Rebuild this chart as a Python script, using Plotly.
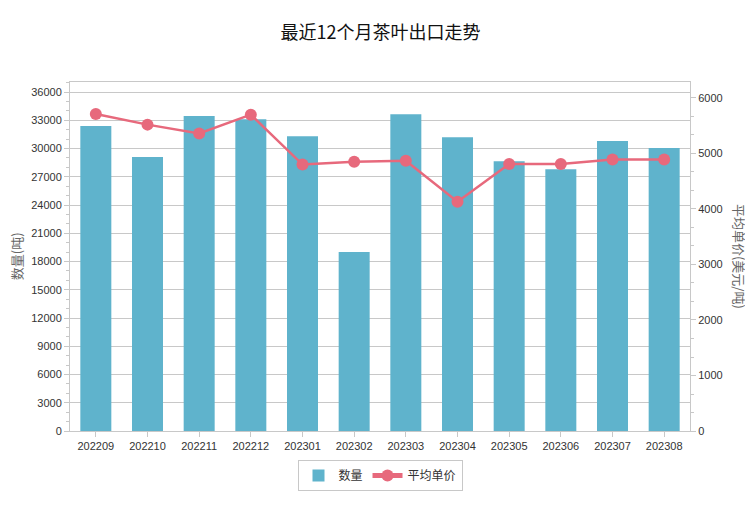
import plotly.graph_objects as go

months = ["202209", "202210", "202211", "202212", "202301", "202302",
          "202303", "202304", "202305", "202306", "202307", "202308"]
quantity = [32400, 29100, 33450, 33100, 31300, 19000,
            33650, 31200, 28650, 27800, 30800, 30050]
avg_price = [5710, 5520, 5360, 5700, 4800, 4850,
             4870, 4130, 4810, 4810, 4890, 4890]

left_ticks = list(range(0, 36001, 3000))
right_ticks = list(range(0, 6001, 1000))

bar_color = "#5fb3cc"
line_color = "#e7697c"
grid = "#c8c8c8"
tick_font = dict(family="Liberation Sans, Arial, sans-serif", size=11, color="#333333")
cjk = "Noto Sans CJK SC, sans-serif"

fig = go.Figure()
fig.add_trace(go.Bar(
    x=months, y=quantity, name="数量",
    marker=dict(color=bar_color, line=dict(width=0)),
    yaxis="y",
))
fig.add_trace(go.Scatter(
    x=months, y=avg_price, name="平均单价", mode="lines+markers",
    line=dict(color=line_color, width=2.5),
    marker=dict(color=line_color, size=12),
    yaxis="y2",
))

W, H = 745, 499
fig.update_layout(
    width=W, height=H,
    margin=dict(l=62, r=63, t=74, b=76),
    paper_bgcolor="white", plot_bgcolor="white",
    title=dict(text="最近12个月茶叶出口走势", x=0.5, xanchor="center",
               y=1 - 18 / H, yanchor="top",
               font=dict(family=cjk, size=18, color="#111111")),
    bargap=0.4,
    showlegend=True,
    legend=dict(orientation="h", x=0.5, xanchor="center", y=-0.083, yanchor="top",
                bordercolor="#c8c8c8", borderwidth=1,
                font=dict(family=cjk, size=12, color="#333333"),
                itemsizing="constant", itemwidth=30),
    xaxis=dict(type="category", range=[-0.5, len(months) - 0.5],
               showgrid=False, showline=True, linecolor=grid,
               mirror=True, ticks="outside", ticklen=5, tickcolor=grid,
               tickfont=tick_font, automargin=False),
    yaxis=dict(range=[0, 37062], tickvals=left_ticks,
               ticktext=[str(v) for v in left_ticks], showgrid=True,
               gridcolor=grid, gridwidth=1, showline=True, linecolor=grid,
               ticks="outside", ticklen=5, tickcolor=grid, tickfont=tick_font,
               zeroline=False, automargin=False,
               minor=dict(dtick=1000, ticks="outside", ticklen=3, tickcolor=grid,
                          showgrid=False)),
    yaxis2=dict(range=[0, 6288], tickvals=right_ticks,
                ticktext=[str(v) for v in right_ticks], overlaying="y", side="right",
                showgrid=False, showline=True, linecolor=grid,
                ticks="outside", ticklen=5, tickcolor=grid, tickfont=tick_font,
                zeroline=False, automargin=False,
                minor=dict(dtick=1000 / 3, ticks="outside", ticklen=3, tickcolor=grid,
                           showgrid=False)),
    annotations=[
        dict(text="数量(吨)", xref="paper", yref="paper", x=-0.086, y=0.5,
             xanchor="center", yanchor="middle", textangle=-90, showarrow=False,
             font=dict(family=cjk, size=13, color="#666666")),
        dict(text="平均单价(美元/吨)", xref="paper", yref="paper", x=1.08, y=0.5,
             xanchor="center", yanchor="middle", textangle=90, showarrow=False,
             font=dict(family=cjk, size=13, color="#666666")),
    ],
)

fig.write_html("out.html")
